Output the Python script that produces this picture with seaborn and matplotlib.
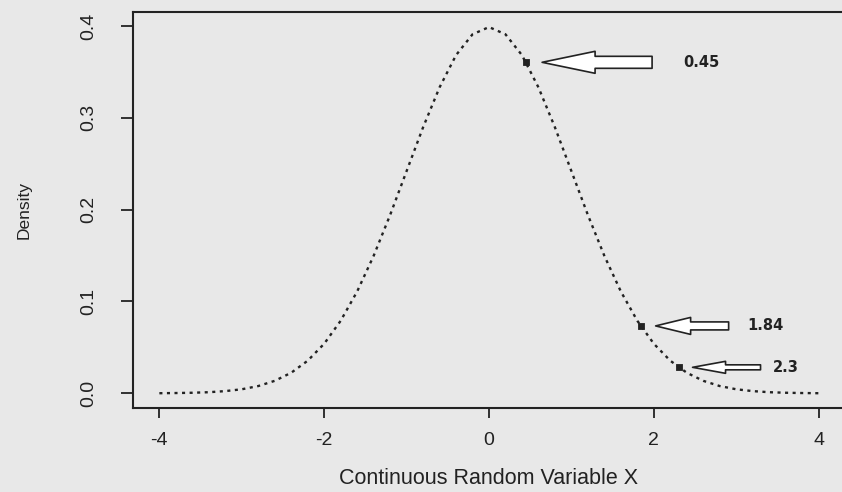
import matplotlib
matplotlib.use("Agg")
import matplotlib.pyplot as plt
import seaborn as sns
import pandas as pd

# ---- data ----
x_vals = [-4.0, -3.8, -3.6, -3.4, -3.2, -3.0, -2.8, -2.6, -2.4, -2.2, -2.0,
          -1.8, -1.6, -1.4, -1.2, -1.0, -0.8, -0.6, -0.4, -0.2, 0.0,
          0.2, 0.4, 0.6, 0.8, 1.0, 1.2, 1.4, 1.6, 1.8, 2.0,
          2.2, 2.4, 2.6, 2.8, 3.0, 3.2, 3.4, 3.6, 3.8, 4.0]
density = [0.0001, 0.0003, 0.0006, 0.0012, 0.0024, 0.0044, 0.0079, 0.0136, 0.0224, 0.0355, 0.0540,
           0.0790, 0.1109, 0.1497, 0.1942, 0.2420, 0.2897, 0.3332, 0.3683, 0.3910, 0.3989,
           0.3910, 0.3683, 0.3332, 0.2897, 0.2420, 0.1942, 0.1497, 0.1109, 0.0790, 0.0540,
           0.0355, 0.0224, 0.0136, 0.0079, 0.0044, 0.0024, 0.0012, 0.0006, 0.0003, 0.0001]

mark_x = [0.45, 1.84, 2.3]
mark_y = [0.3605, 0.0734, 0.0283]
mark_labels = ["0.45", "1.84", "2.3"]

x_ticks = [-4, -2, 0, 2, 4]
x_tick_labels = ["-4", "-2", "0", "2", "4"]
y_ticks = [0.0, 0.1, 0.2, 0.3, 0.4]
y_tick_labels = ["0.0", "0.1", "0.2", "0.3", "0.4"]

x_label = "Continuous Random Variable X"
y_label = "Density"

# ---- style ----
sns.set_theme(style="ticks")
plt.rcParams["font.family"] = ["Liberation Sans", "DejaVu Sans"]
bg = "#e8e8e8"
ink = "#222222"

fig = plt.figure(figsize=(8.42, 4.92), dpi=100, facecolor=bg)
ax = fig.add_axes([133 / 842, 1 - 408 / 492, (845 - 133) / 842, (408 - 12) / 492])
ax.set_facecolor(bg)

df = pd.DataFrame({"x": x_vals, "density": density})
sns.lineplot(data=df, x="x", y="density", ax=ax, color=ink, linewidth=1.7,
             linestyle=(0, (1.3, 1.9)), sort=False)

pts = pd.DataFrame({"x": mark_x, "y": mark_y})
sns.scatterplot(data=pts, x="x", y="y", ax=ax, marker="s", s=24, color=ink,
                edgecolor=ink, linewidth=0.6, zorder=5)

# arrows: (tip gap px, head length px, tail end px, text px, head width px, tail width px)
arrow_geo = [(16, 53, 126, 157, 22, 12),
             (15, 35, 88, 107, 17, 8),
             (14, 33, 82, 94, 12, 5)]
pt2px = 100 / 72
for (mx, my, lab, g) in zip(mark_x, mark_y, mark_labels, arrow_geo):
    tip, hl, tail, txt, hw, tw = g
    ax.annotate("", xy=(mx, my), xytext=(tail, 0), textcoords="offset pixels",
                arrowprops=dict(arrowstyle=f"simple,head_length={hl / pt2px},"
                                           f"head_width={hw / pt2px},tail_width={tw / pt2px}",
                                mutation_scale=1, fc="white", ec=ink, lw=1.2,
                                shrinkA=0, shrinkB=tip / pt2px))
    ax.annotate(lab, xy=(mx, my), xytext=(txt, 0), textcoords="offset pixels",
                ha="left", va="center", fontsize=10.5, fontweight="bold",
                family=["DejaVu Sans"], color=ink)

ax.set_xlim(-4.32, 4.32)
ax.set_ylim(-0.016, 0.4153)
ax.set_xticks(x_ticks)
ax.set_xticklabels(x_tick_labels, fontsize=14, color=ink)
ax.set_yticks(y_ticks)
ax.set_yticklabels(y_tick_labels, fontsize=14, color=ink, rotation=90, va="center")
ax.tick_params(axis="x", length=7, width=1.3, color=ink, pad=10)
ax.tick_params(axis="y", length=9, width=1.3, color=ink, pad=17)
for sp in ax.spines.values():
    sp.set_visible(True)
    sp.set_color(ink)
    sp.set_linewidth(1.5)

ax.set_xlabel(x_label, fontsize=15.5, color=ink, labelpad=14)
ax.set_ylabel(y_label, fontsize=12.5, color=ink, labelpad=35)

fig.savefig("out.png", dpi=100, facecolor=bg)
